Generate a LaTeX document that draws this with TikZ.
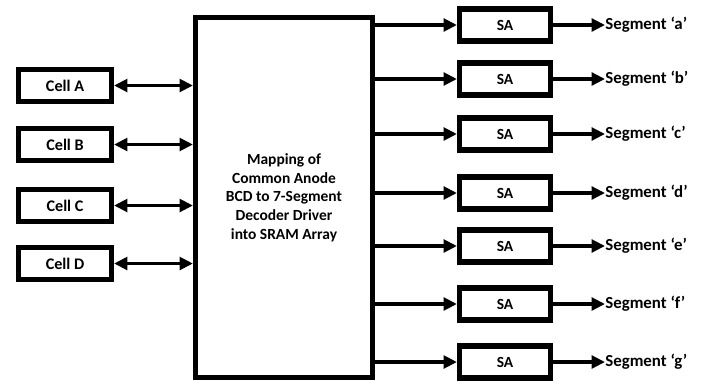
\documentclass[tikz,border=0pt]{standalone}
\usepackage{fontspec}
\setmainfont{Carlito}
\usepackage{tikz}
\usetikzlibrary{arrows.meta, positioning, calc}
\tikzstyle{cellbox} = [
    rectangle,
    minimum width=2.325cm,
    minimum height=0.8cm,
    text centered,
    draw=black,
    line width=3.6pt,
    font=\fontsize{11.5}{13}\selectfont\bfseries
]
\tikzstyle{mapbox} = [
    rectangle,
    minimum width=4.425cm,
    minimum height=9cm,
    align=center,
    draw=black,
    line width=3.6pt,
    font=\fontsize{11}{13.3}\selectfont\bfseries
]
\tikzstyle{sabox} = [
    rectangle,
    minimum width=2.275cm,
    minimum height=0.8cm,
    text centered,
    draw=black,
    line width=3.6pt,
    font=\fontsize{11}{13}\selectfont\bfseries
]
\tikzstyle{seglabel} = [
    anchor=west,
    inner sep=0pt,
    font=\fontsize{12}{14}\selectfont\bfseries
]
\tikzstyle{arrow} = [
    line width=2.8pt,
    -{Triangle[length=9.5pt,width=9pt]}
]
\tikzstyle{darrow} = [
    line width=2.8pt,
    {Triangle[length=9.5pt,width=9pt]}-{Triangle[length=9.5pt,width=9pt]}
]

\begin{document}
\begin{tikzpicture}[x=0.025cm,y=-0.025cm]
        \useasboundingbox (0,0) rectangle (701,384);
        \node[mapbox] (map) at (284,197.5) {Mapping of\\Common Anode\\BCD to 7-Segment\\Decoder Driver\\into SRAM Array};

        \node[cellbox] (cellA) at (65,85.5) {Cell A};
        \node[cellbox] (cellB) at (65,144.5) {Cell B};
        \node[cellbox] (cellC) at (65,205.5) {Cell C};
        \node[cellbox] (cellD) at (65,263.5) {Cell D};

        \node[sabox] (saA) at (505,25) {SA};
        \node[sabox] (saB) at (505,79) {SA};
        \node[sabox] (saC) at (505,134) {SA};
        \node[sabox] (saD) at (505,193) {SA};
        \node[sabox] (saE) at (505,246) {SA};
        \node[sabox] (saF) at (505,304) {SA};
        \node[sabox] (saG) at (505,362) {SA};

        \node[seglabel] (segA) at (605,25) {Segment ‘a’};
        \node[seglabel] (segB) at (605,79) {Segment ‘b’};
        \node[seglabel] (segC) at (605,134) {Segment ‘c’};
        \node[seglabel] (segD) at (605,193) {Segment ‘d’};
        \node[seglabel] (segE) at (605,246) {Segment ‘e’};
        \node[seglabel] (segF) at (605,304) {Segment ‘f’};
        \node[seglabel] (segG) at (605,362) {Segment ‘g’};

        % cells <-> mapping block
        \draw[darrow] (cellA) -- (cellA -| map.west);
        \draw[darrow] (cellB) -- (cellB -| map.west);
        \draw[darrow] (cellC) -- (cellC -| map.west);
        \draw[darrow] (cellD) -- (cellD -| map.west);

        % mapping block -> sense amps
        \draw[arrow] (map.east |- saA) -- (saA);
        \draw[arrow] (map.east |- saB) -- (saB);
        \draw[arrow] (map.east |- saC) -- (saC);
        \draw[arrow] (map.east |- saD) -- (saD);
        \draw[arrow] (map.east |- saE) -- (saE);
        \draw[arrow] (map.east |- saF) -- (saF);
        \draw[arrow] (map.east |- saG) -- (saG);

        % sense amps -> segments
        \draw[arrow] (saA) -- (segA);
        \draw[arrow] (saB) -- (segB);
        \draw[arrow] (saC) -- (segC);
        \draw[arrow] (saD) -- (segD);
        \draw[arrow] (saE) -- (segE);
        \draw[arrow] (saF) -- (segF);
        \draw[arrow] (saG) -- (segG);
    \end{tikzpicture}
\end{document}
